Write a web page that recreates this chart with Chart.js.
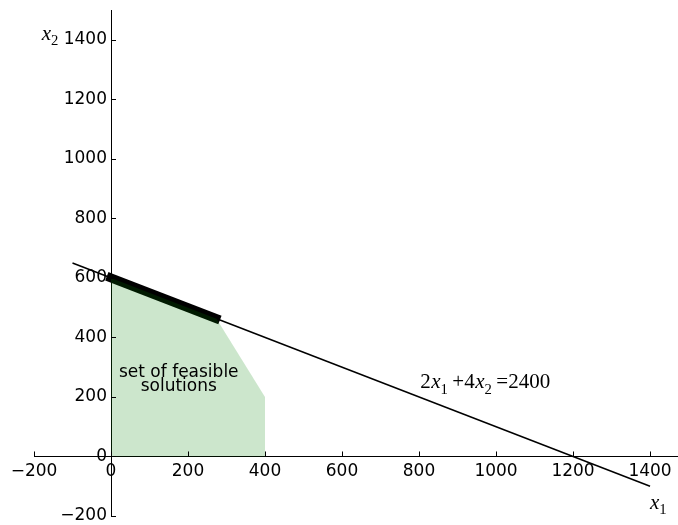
<!DOCTYPE html>
<html>
<head>
<meta charset="utf-8">
<script src="https://cdn.jsdelivr.net/npm/chart.js@4/dist/chart.umd.min.js"></script>
<style>
  html, body { margin: 0; padding: 0; background: #fff; }
  #wrap { width: 678px; height: 525px; }
</style>
</head>
<body>
<div id="wrap"><canvas id="c" width="678" height="525"></canvas></div>
<script>
// Budget constraint 2*x1 + 4*x2 = 2400, drawn between its two end points
const constraintX = [-100, 1400];
const constraintY = [650, -100];

// Feasible region boundary (filled down to x2 = 0)
const regionX = [0, 274, 400];
const regionY = [600, 463, 200];

// Optimal edge lying on the budget line
const edgeX = [0, 272];
const edgeY = [600, 464];

// Axis ranges and tick values
const xRange = [-200, 1470];
const yRange = [-200, 1500];
const xTicks = [-200, 0, 200, 400, 600, 800, 1000, 1200, 1400];
const yTicks = [-200, 0, 200, 400, 600, 800, 1000, 1200, 1400];

// Annotations: [x, y] in data units
const regionLabel = ['set of feasible', 'solutions'];
const regionLabelAt = [176, 262];
const equationAt = [803, 229];
const x1LabelAt = [1400, -175];
const x2LabelAt = [-180, 1400];

const pts = (xs, ys) => xs.map((x, i) => ({ x: x, y: ys[i] }));

const TICK_FONT = { family: 'DejaVu Sans', size: 17 };
const MATH_FAMILY = '"Liberation Serif", "DejaVu Serif", serif';
const MATH_SIZE = 21;

// plain tick text with a typographic minus sign
const tickText = v => (v < 0 ? '\u2212' : '') + Math.abs(v);

// Math-style text: pieces of [text, kind, gapAfter] where kind is n (upright), i (italic), s (subscript)
function drawMath(ctx, pieces, x, y, size) {
  let cx = x;
  pieces.forEach(([t, kind, gap]) => {
    let fs = size, dy = 0, style = '';
    if (kind === 'i') style = 'italic ';
    if (kind === 's') { fs = size * 0.7; dy = size * 0.25; }
    ctx.font = style + fs + 'px ' + MATH_FAMILY;
    ctx.fillText(t, cx, y + dy);
    cx += ctx.measureText(t).width + (gap || 0);
  });
}

// the axes cross inside the plot, so no extra room is reserved for end labels
const noEndPadding = scale => {
  scale.paddingLeft = scale.paddingRight = scale.paddingTop = scale.paddingBottom = 0;
};

const decorations = {
  id: 'decorations',
  afterLayout(chart) {
    // keep y tick labels a few pixels clear of the spine
    const sy = chart.scales.y;
    if (!sy._shifted) {
      const orig = sy.drawLabels.bind(sy);
      sy.drawLabels = function (area) {
        chart.ctx.save();
        chart.ctx.translate(-4, 0);
        orig(area);
        chart.ctx.restore();
      };
      sy._shifted = true;
    }
  },
  afterDatasetsDraw(chart) {
    const { ctx, scales } = chart;
    const sx = scales.x, sy = scales.y;
    const x0 = sx.getPixelForValue(0), y0 = sy.getPixelForValue(0);
    ctx.save();
    // inward tick marks on both spines
    ctx.strokeStyle = '#000';
    ctx.lineWidth = 1;
    ctx.beginPath();
    xTicks.forEach(v => {
      const px = Math.round(sx.getPixelForValue(v)) + 0.5;
      ctx.moveTo(px, y0); ctx.lineTo(px, y0 - 5);
    });
    yTicks.forEach(v => {
      const py = Math.round(sy.getPixelForValue(v)) + 0.5;
      ctx.moveTo(x0, py); ctx.lineTo(x0 + 5, py);
    });
    ctx.stroke();

    // region label
    ctx.fillStyle = '#000';
    ctx.font = '17px "DejaVu Sans"';
    ctx.textAlign = 'center';
    ctx.textBaseline = 'alphabetic';
    const lx = sx.getPixelForValue(regionLabelAt[0]);
    const ly = sy.getPixelForValue(regionLabelAt[1]);
    ctx.fillText(regionLabel[0], lx, ly - 1);
    ctx.fillText(regionLabel[1], lx, ly + 13);

    // equation and axis names
    ctx.textAlign = 'left';
    drawMath(ctx, [['2', 'n', 0.5], ['x', 'i', 0], ['1', 's', 4.5], ['+4', 'n', 0.5], ['x', 'i', 0], ['2', 's', 4.5], ['=2400', 'n', 0]],
      sx.getPixelForValue(equationAt[0]), sy.getPixelForValue(equationAt[1]), MATH_SIZE);
    drawMath(ctx, [['x', 'i', 0], ['1', 's', 0]],
      sx.getPixelForValue(x1LabelAt[0]), sy.getPixelForValue(x1LabelAt[1]), MATH_SIZE);
    drawMath(ctx, [['x', 'i', 0], ['2', 's', 0]],
      sx.getPixelForValue(x2LabelAt[0]), sy.getPixelForValue(x2LabelAt[1]), MATH_SIZE);
    ctx.restore();
  }
};

const keepTicks = list => scale => {
  scale.ticks = list.map(v => ({ value: v }));
};

new Chart(document.getElementById('c'), {
  type: 'line',
  data: {
    datasets: [
      {
        data: pts(regionX, regionY),
        borderWidth: 0,
        pointRadius: 0,
        fill: 'origin',
        backgroundColor: 'rgba(0,128,0,0.2)',
        tension: 0
      },
      {
        data: pts(constraintX, constraintY),
        borderColor: '#000',
        borderWidth: 1.5,
        pointRadius: 0,
        fill: false
      },
      {
        data: pts(edgeX, edgeY),
        borderColor: '#000',
        borderWidth: 9,
        borderCapStyle: 'square',
        pointRadius: 0,
        fill: false
      }
    ]
  },
  options: {
    responsive: false,
    animation: false,
    events: [],
    layout: { padding: { left: 34, right: 1, top: 10, bottom: 9 } },
    plugins: { legend: { display: false }, tooltip: { enabled: false } },
    scales: {
      x: {
        type: 'linear',
        position: { y: 0 },
        min: xRange[0], max: xRange[1],
        afterBuildTicks: keepTicks(xTicks),
        afterFit: noEndPadding,
        grid: { display: false, drawTicks: false },
        border: { display: true, color: '#000', width: 1 },
        ticks: { color: '#000', font: TICK_FONT, padding: 5, maxRotation: 0, autoSkip: false, callback: tickText }
      },
      y: {
        type: 'linear',
        position: { x: 0 },
        min: yRange[0], max: yRange[1],
        afterBuildTicks: keepTicks(yTicks),
        afterFit: noEndPadding,
        grid: { display: false, drawTicks: false },
        border: { display: true, color: '#000', width: 1 },
        ticks: { color: '#000', font: TICK_FONT, padding: 4, autoSkip: false, callback: tickText }
      }
    }
  },
  plugins: [decorations]
});
</script>
</body>
</html>
